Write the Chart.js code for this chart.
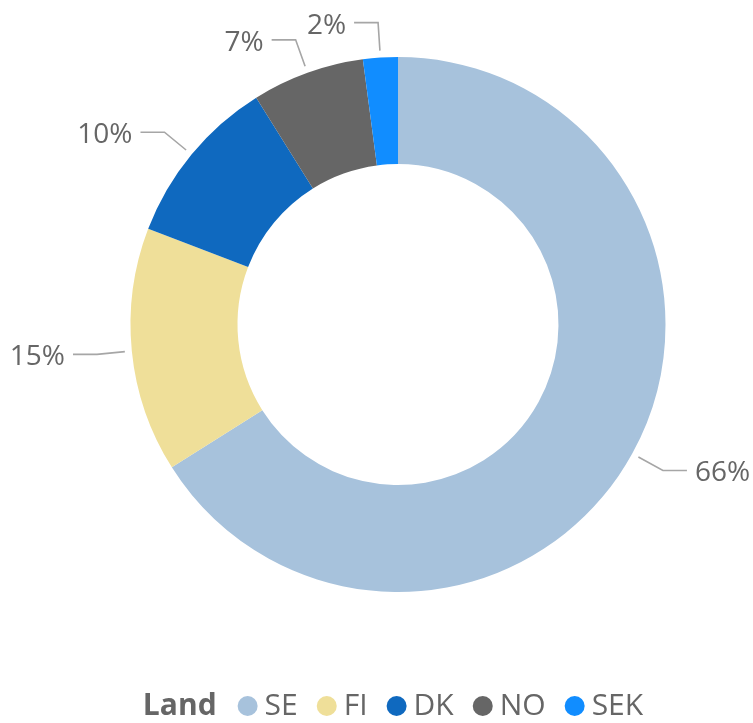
<!DOCTYPE html>
<html>
<head>
<meta charset="utf-8">
<script src="https://cdn.jsdelivr.net/npm/chart.js@4"></script>
<style>
  html, body { margin: 0; padding: 0; background: #fff; }
  #wrap { width: 753px; height: 723px; position: relative; }
</style>
</head>
<body>
<div id="wrap"><canvas id="c" width="753" height="723"></canvas></div>
<script>
const categories = ['SE', 'FI', 'DK', 'NO', 'SEK'];
const values = [66.1, 14.8, 10.3, 6.8, 2.1];
const colors = ['#A7C2DC', '#EFDF99', '#0F69BF', '#666666', '#118DFF'];
const legendTitle = 'Land';

const FONT = '"Segoe UI", "Open Sans", sans-serif';
const TEXT_COLOR = '#666666';

const labelPlugin = {
  id: 'outLabels',
  afterDatasetsDraw(chart) {
    const ctx = chart.ctx;
    const meta = chart.getDatasetMeta(0);
    const total = values.reduce((a, b) => a + b, 0);
    ctx.save();
    meta.data.forEach((arc, i) => {
      const { x, y, startAngle, endAngle, outerRadius } = arc.getProps(['x','y','startAngle','endAngle','outerRadius'], true);
      const mid = (startAngle + endAngle) / 2;
      const cx = Math.cos(mid), cy = Math.sin(mid);
      const x1 = x + cx * (outerRadius + 7), y1 = y + cy * (outerRadius + 7);
      const x2 = x + cx * (outerRadius + 35), y2 = y + cy * (outerRadius + 35);
      const right = cx >= 0;
      const x3 = x2 + (right ? 24 : -24);
      ctx.strokeStyle = '#A6A6A6';
      ctx.lineWidth = 1.6;
      ctx.beginPath();
      ctx.moveTo(x1, y1); ctx.lineTo(x2, y2); ctx.lineTo(x3, y2);
      ctx.stroke();
      ctx.fillStyle = TEXT_COLOR;
      ctx.font = '28px ' + FONT;
      ctx.textBaseline = 'middle';
      ctx.textAlign = right ? 'left' : 'right';
      const pct = Math.round(values[i] / total * 100) + '%';
      ctx.fillText(pct, x3 + (right ? 8 : -8), y2 + 3);
    });
    ctx.restore();
  }
};

const legendPlugin = {
  id: 'customLegend',
  afterDraw(chart) {
    const ctx = chart.ctx;
    ctx.save();
    ctx.textBaseline = 'middle';
    ctx.textAlign = 'left';
    const y = 706;
    ctx.font = 'bold 30px ' + FONT;
    const tw = ctx.measureText(legendTitle).width;
    ctx.font = '30px ' + FONT;
    let total = tw + 21;
    const widths = categories.map(c => ctx.measureText(c).width);
    widths.forEach((w, i) => { total += 20 + 7 + w + (i < widths.length - 1 ? 19 : 0); });
    let x = 393 - total / 2;
    ctx.font = 'bold 30px ' + FONT;
    ctx.fillStyle = TEXT_COLOR;
    ctx.fillText(legendTitle, x, y);
    x += tw + 21;
    ctx.font = '30px ' + FONT;
    categories.forEach((c, i) => {
      ctx.fillStyle = colors[i];
      ctx.beginPath();
      ctx.arc(x + 10, y, 10, 0, Math.PI * 2);
      ctx.fill();
      x += 27;
      ctx.fillStyle = TEXT_COLOR;
      ctx.fillText(c, x, y);
      x += widths[i] + 19;
    });
    ctx.restore();
  }
};

new Chart(document.getElementById('c'), {
  type: 'doughnut',
  data: {
    labels: categories,
    datasets: [{
      data: values,
      backgroundColor: colors,
      borderWidth: 0,
      hoverOffset: 0
    }]
  },
  options: {
    responsive: false,
    animation: false,
    cutout: '60%',
    layout: { padding: { top: 57, bottom: 131, left: 130.5, right: 87.5 } },
    plugins: {
      legend: { display: false },
      tooltip: { enabled: false }
    }
  },
  plugins: [labelPlugin, legendPlugin]
});
</script>
</body>
</html>
